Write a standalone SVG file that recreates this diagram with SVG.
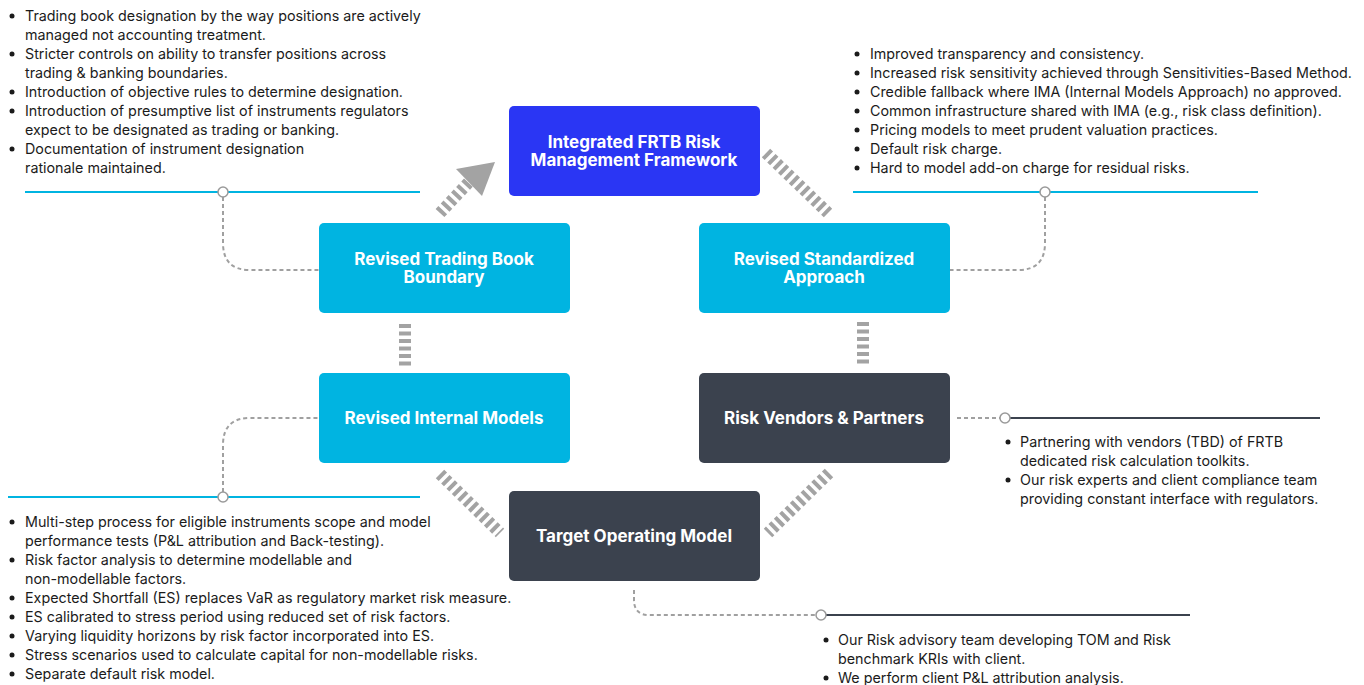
<svg xmlns="http://www.w3.org/2000/svg" width="1364" height="685" viewBox="0 0 1364 685">
<defs>
<style>
.bg{fill:#ffffff}
.node-blue{fill:#2a36f4}
.node-cyan{fill:#00b4e1}
.node-dark{fill:#3b424e}
.lbl{font-family:Inter,"Liberation Sans",sans-serif;font-size:17px;font-weight:700;fill:#ffffff;text-anchor:middle}
.txt{font-family:Inter,"Liberation Sans",sans-serif;font-size:14.3px;fill:#1b1b1b}
.hatch{stroke:#a3a3a3;stroke-width:12;stroke-dasharray:4 3.5;fill:none}
.dash{stroke:#a0a0a0;stroke-width:2;stroke-dasharray:4 3;fill:none}
.cyanline{stroke:#00b4e1;stroke-width:2;fill:none}
.darkline{stroke:#3b424e;stroke-width:2;fill:none}
.dot{fill:#ffffff;stroke:#9a9a9a;stroke-width:1.5}
.bul{fill:#1b1b1b}
</style>
</defs>
<rect class="bg" x="0" y="0" width="1364" height="685"/>

<g id="connectors">
  <line class="hatch" x1="440" y1="213" x2="470" y2="181"/>
  <polygon points="495,162 456,169 482,196" fill="#a3a3a3"/>
  <line class="hatch" x1="766" y1="153" x2="828" y2="213"/>
  <line class="hatch" x1="405" y1="324" x2="405" y2="366"/>
  <line class="hatch" x1="863" y1="322" x2="863" y2="364"/>
  <line class="hatch" x1="440" y1="474" x2="500" y2="533"/>
  <line class="hatch" x1="829" y1="473" x2="768" y2="533"/>

  <line class="cyanline" x1="25" y1="192" x2="420" y2="192"/>
  <path class="dash" d="M223,197 V243 Q223,270 250,270 H319"/>
  <circle class="dot" cx="223" cy="192" r="5"/>

  <line class="cyanline" x1="853" y1="192" x2="1258" y2="192"/>
  <path class="dash" d="M1045,197 V243 Q1045,270 1018,270 H950"/>
  <circle class="dot" cx="1045" cy="192" r="5"/>

  <line class="cyanline" x1="8" y1="497" x2="420" y2="497"/>
  <path class="dash" d="M223,492 V445 Q223,418 250,418 H319"/>
  <circle class="dot" cx="223" cy="497" r="5"/>

  <path class="dash" d="M957,418 H1000"/>
  <line class="darkline" x1="1010" y1="418" x2="1320" y2="418"/>
  <circle class="dot" cx="1005" cy="418" r="5"/>

  <path class="dash" d="M634,590 V600 Q634,615 649,615 H816"/>
  <line class="darkline" x1="826" y1="615" x2="1190" y2="615"/>
  <circle class="dot" cx="821" cy="615" r="5"/>
</g>

<g id="node-integrated">
  <rect class="node-blue" x="509" y="106" width="251" height="90" rx="5"/>
  <text class="lbl" x="634" y="148">Integrated FRTB Risk</text>
  <text class="lbl" x="634" y="166">Management Framework</text>
</g>
<g id="node-trading-book">
  <rect class="node-cyan" x="319" y="223" width="251" height="90" rx="5"/>
  <text class="lbl" x="444" y="265">Revised Trading Book</text>
  <text class="lbl" x="444" y="283">Boundary</text>
</g>
<g id="node-standardized">
  <rect class="node-cyan" x="699" y="223" width="251" height="90" rx="5"/>
  <text class="lbl" x="824" y="265">Revised Standardized</text>
  <text class="lbl" x="824" y="283">Approach</text>
</g>
<g id="node-internal-models">
  <rect class="node-cyan" x="319" y="373" width="251" height="90" rx="5"/>
  <text class="lbl" x="444" y="424">Revised Internal Models</text>
</g>
<g id="node-vendors">
  <rect class="node-dark" x="699" y="373" width="251" height="90" rx="5"/>
  <text class="lbl" x="824" y="424">Risk Vendors &amp; Partners</text>
</g>
<g id="node-tom">
  <rect class="node-dark" x="509" y="491" width="251" height="90" rx="5"/>
  <text class="lbl" x="634" y="542">Target Operating Model</text>
</g>

<g id="text-trading-book">
  <circle class="bul" cx="12" cy="16" r="2.5"/>
  <circle class="bul" cx="12" cy="54" r="2.5"/>
  <circle class="bul" cx="12" cy="92" r="2.5"/>
  <circle class="bul" cx="12" cy="111" r="2.5"/>
  <circle class="bul" cx="12" cy="149" r="2.5"/>
  <text class="txt" x="25" y="21">Trading book designation by the way positions are actively</text>
  <text class="txt" x="25" y="40">managed not accounting treatment.</text>
  <text class="txt" x="25" y="59">Stricter controls on ability to transfer positions across</text>
  <text class="txt" x="25" y="78">trading &amp; banking boundaries.</text>
  <text class="txt" x="25" y="97">Introduction of objective rules to determine designation.</text>
  <text class="txt" x="25" y="116">Introduction of presumptive list of instruments regulators</text>
  <text class="txt" x="25" y="135">expect to be designated as trading or banking.</text>
  <text class="txt" x="25" y="154">Documentation of instrument designation</text>
  <text class="txt" x="25" y="173">rationale maintained.</text>
</g>

<g id="text-standardized">
  <circle class="bul" cx="857" cy="54" r="2.5"/>
  <circle class="bul" cx="857" cy="73" r="2.5"/>
  <circle class="bul" cx="857" cy="92" r="2.5"/>
  <circle class="bul" cx="857" cy="111" r="2.5"/>
  <circle class="bul" cx="857" cy="130" r="2.5"/>
  <circle class="bul" cx="857" cy="149" r="2.5"/>
  <circle class="bul" cx="857" cy="168" r="2.5"/>
  <text class="txt" x="870" y="59">Improved transparency and consistency.</text>
  <text class="txt" x="870" y="78">Increased risk sensitivity achieved through Sensitivities-Based Method.</text>
  <text class="txt" x="870" y="97">Credible fallback where IMA (Internal Models Approach) no approved.</text>
  <text class="txt" x="870" y="116">Common infrastructure shared with IMA (e.g., risk class definition).</text>
  <text class="txt" x="870" y="135">Pricing models to meet prudent valuation practices.</text>
  <text class="txt" x="870" y="154">Default risk charge.</text>
  <text class="txt" x="870" y="173">Hard to model add-on charge for residual risks.</text>
</g>

<g id="text-vendors">
  <circle class="bul" cx="1008" cy="442" r="2.5"/>
  <circle class="bul" cx="1008" cy="480" r="2.5"/>
  <text class="txt" x="1020" y="447">Partnering with vendors (TBD) of FRTB</text>
  <text class="txt" x="1020" y="466">dedicated risk calculation toolkits.</text>
  <text class="txt" x="1020" y="485">Our risk experts and client compliance team</text>
  <text class="txt" x="1020" y="504">providing constant interface with regulators.</text>
</g>

<g id="text-internal-models">
  <circle class="bul" cx="12" cy="522" r="2.5"/>
  <circle class="bul" cx="12" cy="560" r="2.5"/>
  <circle class="bul" cx="12" cy="598" r="2.5"/>
  <circle class="bul" cx="12" cy="617" r="2.5"/>
  <circle class="bul" cx="12" cy="636" r="2.5"/>
  <circle class="bul" cx="12" cy="655" r="2.5"/>
  <circle class="bul" cx="12" cy="674" r="2.5"/>
  <text class="txt" x="25" y="527">Multi-step process for eligible instruments scope and model</text>
  <text class="txt" x="25" y="546">performance tests (P&amp;L attribution and Back-testing).</text>
  <text class="txt" x="25" y="565">Risk factor analysis to determine modellable and</text>
  <text class="txt" x="25" y="584">non-modellable factors.</text>
  <text class="txt" x="25" y="603">Expected Shortfall (ES) replaces VaR as regulatory market risk measure.</text>
  <text class="txt" x="25" y="622">ES calibrated to stress period using reduced set of risk factors.</text>
  <text class="txt" x="25" y="641">Varying liquidity horizons by risk factor incorporated into ES.</text>
  <text class="txt" x="25" y="660">Stress scenarios used to calculate capital for non-modellable risks.</text>
  <text class="txt" x="25" y="679">Separate default risk model.</text>
</g>

<g id="text-tom">
  <circle class="bul" cx="826" cy="640" r="2.5"/>
  <circle class="bul" cx="826" cy="678" r="2.5"/>
  <text class="txt" x="838" y="645">Our Risk advisory team developing TOM and Risk</text>
  <text class="txt" x="838" y="664">benchmark KRIs with client.</text>
  <text class="txt" x="838" y="683">We perform client P&amp;L attribution analysis.</text>
</g>
</svg>
